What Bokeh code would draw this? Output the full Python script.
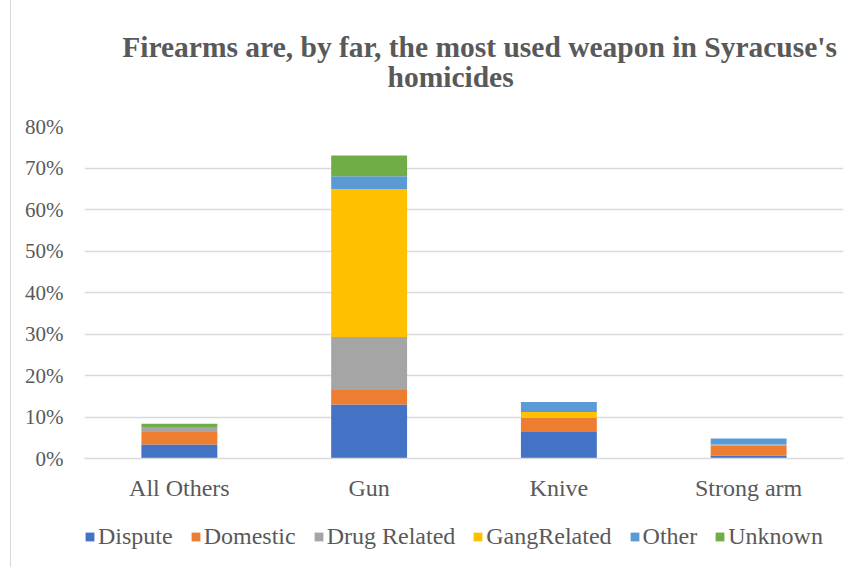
from bokeh.plotting import figure
from bokeh.layouts import column
from bokeh.models import (Range1d, FactorRange, NumeralTickFormatter, Legend, LegendItem,
                          Label, FixedTicker, ColumnDataSource)
from bokeh.embed import file_html
from bokeh.resources import INLINE

categories = ["All Others", "Gun", "Knive", "Strong arm"]
series = ["Dispute", "Domestic", "Drug Related", "GangRelated", "Other", "Unknown"]
dispute = [0.034, 0.130, 0.064, 0.007]
domestic = [0.030, 0.035, 0.034, 0.024]
drug_related = [0.010, 0.128, 0.000, 0.003]
gang_related = [0.000, 0.356, 0.014, 0.000]
other = [0.000, 0.031, 0.024, 0.014]
unknown = [0.010, 0.050, 0.000, 0.000]
y_ticks = [0.0, 0.1, 0.2, 0.3, 0.4, 0.5, 0.6, 0.7, 0.8]
title_lines = ["Firearms are, by far, the most used weapon in Syracuse's", "homicides"]
colors = ["#4472C4", "#ED7D31", "#A5A5A5", "#FFC000", "#5B9BD5", "#70AD47"]

FONT = "Liberation Serif"
GREY = "#595959"

source = ColumnDataSource(dict(
    cat=categories, Dispute=dispute, Domestic=domestic, **{"Drug Related": drug_related},
    GangRelated=gang_related, Other=other, Unknown=unknown))

# ---- title strip (its frame is aligned with the chart frame by the column layout) ----
tf = figure(width=845, height=112, x_range=(0, 1), y_range=(0, 1), output_backend="svg",
            toolbar_location=None, min_border=0, x_axis_location=None, y_axis_location=None)
tf.grid.visible = False
tf.outline_line_color = None
for txt, xs, ys in zip(title_lines, [37.7, 303], [66, 35.3]):
    tf.add_layout(Label(x=xs, y=ys, x_units="screen", y_units="screen", text=txt,
                        text_font=FONT, text_font_size="29.5px", text_font_style="bold",
                        text_color=GREY, text_align="left", text_baseline="alphabetic"))

# ---- main chart ----
p = figure(frame_width=759, frame_height=332, x_range=FactorRange(*categories, range_padding=0),
           y_range=Range1d(0, 0.8), output_backend="svg", toolbar_location=None,
           min_border_left=73, min_border_right=13, min_border_top=14, min_border_bottom=52)

p.vbar_stack(series, x="cat", width=0.4, source=source, color=colors, line_color=None)

p.outline_line_color = None
p.background_fill_color = "white"
p.xgrid.grid_line_color = None
p.ygrid.grid_line_color = "#d9d9d9"
p.ygrid.grid_line_width = 1.5

p.yaxis.ticker = FixedTicker(ticks=y_ticks)
p.yaxis.formatter = NumeralTickFormatter(format="0%")
p.yaxis.axis_line_color = None
p.yaxis.major_tick_line_color = None
p.yaxis.minor_tick_line_color = None
p.yaxis.major_label_text_font = FONT
p.yaxis.major_label_text_font_size = "21px"
p.yaxis.major_label_text_color = GREY
p.yaxis.major_label_standoff = 15

p.xaxis.axis_line_color = "#d9d9d9"
p.xaxis.axis_line_width = 1.5
p.xaxis.major_tick_line_color = None
p.xaxis.minor_tick_line_color = None
p.xaxis.major_label_text_font = FONT
p.xaxis.major_label_text_font_size = "24px"
p.xaxis.major_label_text_color = GREY
p.xaxis.major_label_standoff = 10

# ---- legend strip (same stacked series, drawn out of view; only keys show) ----
lg = figure(width=845, height=57, x_range=FactorRange(*categories), y_range=(1, 2),
            output_backend="svg", toolbar_location=None, min_border=0,
            x_axis_location=None, y_axis_location=None)
lg.grid.visible = False
lg.outline_line_color = None
key_renderers = lg.vbar_stack(series, x="cat", width=0.4, source=source, color=colors,
                              line_color=None)
items = [LegendItem(label=s, renderers=[r]) for s, r in zip(series, key_renderers)]
legend = Legend(items=items, orientation="horizontal", location=(0, 17),
                label_text_font=FONT, label_text_font_size="24px", label_text_color=GREY,
                glyph_width=11, glyph_height=11, label_standoff=3, spacing=17,
                border_line_color=None, background_fill_alpha=0, padding=0, margin=0)
lg.add_layout(legend)

layout = column(tf, p, lg, spacing=0,
                styles={"margin-left": "10px", "border-left": "1px solid #d9d9d9"})

open("out.html", "w").write(file_html(layout, INLINE))
